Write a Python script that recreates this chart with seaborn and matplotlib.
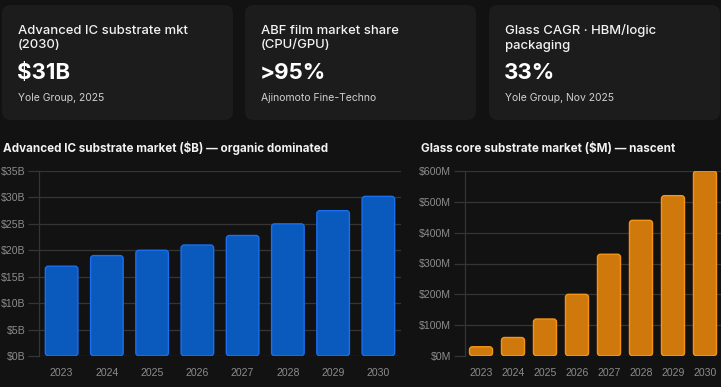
import matplotlib
matplotlib.use('Agg')
import matplotlib.pyplot as plt
import seaborn as sns
import pandas as pd
from matplotlib.patches import FancyBboxPatch

years = ['2023', '2024', '2025', '2026', '2027', '2028', '2029', '2030']
ic_market = [17, 19, 20, 21, 22.8, 25, 27.5, 30.2]
glass_market = [30, 60, 120, 200, 330, 440, 520, 600]

card_titles = ['Advanced IC substrate mkt\n(2030)', 'ABF film market share\n(CPU/GPU)',
               'Glass CAGR · HBM/logic\npackaging']
card_values = ['$31B', '>95%', '33%']
card_sources = ['Yole Group, 2025', 'Ajinomoto Fine-Techno', 'Yole Group, Nov 2025']

BG = '#121212'
CARD = '#1c1c1c'
GRID = '#353535'
TICK = '#8c8c8c'

sns.set_theme(style='dark')
plt.rcParams['font.family'] = ['Inter', 'DejaVu Sans']

W, H = 721, 387
fig = plt.figure(figsize=(W / 100, H / 100), dpi=100, facecolor=BG)


def px(x, y):
    return x / W, 1 - y / H


# kpi cards
card_x = [2, 245, 489]
for i in range(3):
    x0 = card_x[i]
    fig.patches.append(FancyBboxPatch(px(x0, 120), 231 / W, 115 / H,
                                      boxstyle='round,pad=0,rounding_size=0.012',
                                      transform=fig.transFigure, facecolor=CARD,
                                      edgecolor='none', mutation_aspect=W / H))
    fig.text(*px(x0 + 16, 38), card_titles[i], color='#f2f2f2', fontsize=9.4,
             fontweight='medium', va='center', linespacing=1.25)
    fig.text(*px(x0 + 15, 73), card_values[i], color='#ffffff', fontsize=16,
             fontweight='bold', va='center')
    fig.text(*px(x0 + 16, 98), card_sources[i], color='#d0d0d0', fontsize=7.5,
             va='center')


def bar_panel(rect, values, ymax, step, fmt, fill, edge, title, title_x):
    ax = fig.add_axes(rect)
    ax.set_facecolor(BG)
    df = pd.DataFrame({'year': years, 'value': values})
    sns.barplot(data=df, x='year', y='value', ax=ax, color=fill, width=0.72,
                saturation=1)
    ax.set_ylim(0, ymax)
    ax.set_xlim(-0.5, len(years) - 0.5)
    # rounded bars
    bb = ax.get_window_extent()
    xs = len(years) / bb.width
    ys = ymax / bb.height
    for p in list(ax.patches):
        x, w, h = p.get_x(), p.get_width(), p.get_height()
        p.remove()
        ax.add_patch(FancyBboxPatch((x, 0.25 * ys), w, h - 0.25 * ys,
                                    boxstyle='round,pad=0,rounding_size=%f' % (3 * xs),
                                    mutation_aspect=ys / xs, facecolor=fill,
                                    edgecolor=edge, linewidth=1.0, zorder=3))
    ticks = list(range(0, ymax + 1, step))
    ax.set_yticks(ticks)
    ax.set_yticklabels([fmt.format(t) for t in ticks], family='Liberation Sans')
    ax.grid(axis='y', color=GRID, linewidth=0.9)
    ax.grid(axis='x', visible=False)
    ax.tick_params(axis='y', colors=GRID, labelcolor=TICK, labelsize=7.6,
                   length=8, width=0.9, pad=2, left=True)
    ax.tick_params(axis='x', colors=TICK, labelsize=7.6, length=0, pad=9)
    for lbl in ax.get_xticklabels():
        lbl.set_family('Liberation Sans')
    for s in ['top', 'right', 'bottom']:
        ax.spines[s].set_visible(False)
    ax.spines['left'].set_color(GRID)
    ax.spines['left'].set_linewidth(0.9)
    ax.set_xlabel('')
    ax.set_ylabel('')
    fig.text(*px(title_x, 148), title, color='#f2f2f2', fontsize=8.4,
             fontweight='bold', va='center')
    return ax


bar_panel([39 / W, 1 - 356 / H, 362 / W, 185 / H], ic_market, 35, 5, '${}B',
          '#0a5abd', '#1a6ef0',
          'Advanced IC substrate market ($B) — organic dominated', 3)
bar_panel([465 / W, 1 - 356 / H, 256 / W, 185 / H], glass_market, 600, 100, '${}M',
          '#cf790c', '#f39417',
          'Glass core substrate market ($M) — nascent', 421)

fig.savefig('out.png', dpi=100, facecolor=BG)
